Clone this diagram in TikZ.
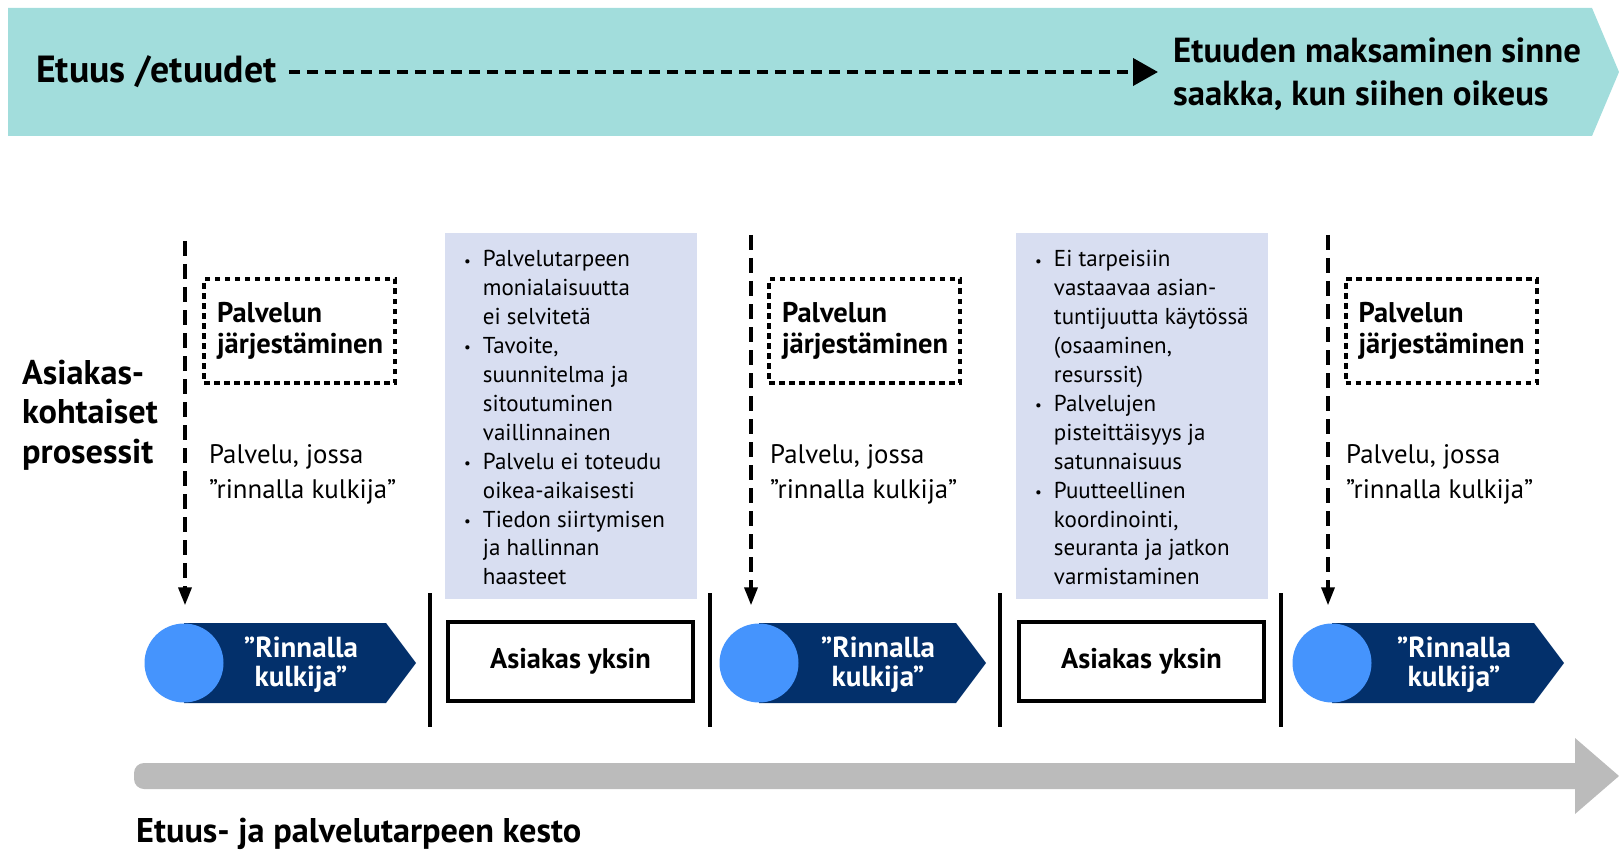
\documentclass[tikz,border=0pt]{standalone}
\usepackage{fontspec}
\setmainfont{PT Sans}
\usetikzlibrary{arrows.meta}

\definecolor{bannerteal}{HTML}{A2DDDC}
\definecolor{issuefill}{HTML}{D8DEF1}
\definecolor{guidenavy}{HTML}{03306B}
\definecolor{guidesky}{HTML}{4594FD}
\definecolor{trackgray}{HTML}{BBBBBB}

\newcommand{\fsz}[2]{\fontsize{#1}{#2}\selectfont}
\newcommand{\bul}{{\fsz{15}{15}\raisebox{1pt}{•}}}

\tikzset{
  guidetext/.style={text=white, font=\bfseries\fsz{29}{29}, align=center, inner sep=0pt},
  guidedot/.style={circle, fill=guidesky, minimum size=79pt, inner sep=0pt},
  planbox/.style={draw, line width=4pt, dash pattern=on 5.5pt off 4.5pt,
    minimum height=104pt, text width=165pt, inner xsep=13pt, align=left,
    font=\bfseries\fsz{28.5}{31}},
  walktext/.style={anchor=west, align=left, inner sep=0pt, font=\fsz{26.8}{35}},
  issuebox/.style={fill=issuefill, anchor=north west, minimum width=252pt,
    minimum height=366pt, inner sep=0pt},
  issuelist/.style={anchor=base west, inner sep=0pt, font=\fsz{23}{28.9}},
  alonebox/.style={draw, line width=4pt, minimum width=245pt, minimum height=79pt,
    font=\bfseries\fsz{28.4}{30}},
  entry/.style={draw, line width=3.5pt, dash pattern=on 15pt off 8pt,
    -{Triangle[length=18pt, width=13pt]}, shorten >=18pt},
  divider/.style={line width=4.5pt},
  benefitline/.style={line width=4pt, dash pattern=on 11pt off 7pt,
    -{Triangle[length=25pt, width=27pt]}, shorten <=12pt, shorten >=15pt},
}

\begin{document}
\begin{tikzpicture}[x=1pt, y=-1pt]
\useasboundingbox (0,0) rectangle (1619,850);

% benefit banner
\fill[bannerteal] (8,8) -- (1592,8) -- (1619,72) -- (1592,136) -- (8,136) -- cycle;
\node[anchor=west, inner sep=0pt, font=\bfseries\fsz{37.8}{40}] (benefit) at (36,72) {Etuus /etuudet};
\node[anchor=west, inner sep=0pt, align=left, font=\bfseries\fsz{34.8}{42.5}] (payment) at (1173,74)
  {Etuuden maksaminen sinne\\saakka, kun siihen oikeus};
\draw[benefitline] (benefit.east) -- (benefit.east -| payment.west);

% row label
\node[anchor=west, inner sep=0pt, align=left, font=\bfseries\fsz{34.3}{39.5}] (rowlabel) at (22,415)
  {Asiakas-\\kohtaiset\\prosessit};

% issue panels
\node[issuebox] (gap1) at (445,233) {};
\node[issuebox] (gap2) at (1016,233) {};
\node[issuelist] (list1) at (464,267) {\begin{tabular}[t]{@{}l@{\hspace{12pt}}l@{}}
\bul & Palvelutarpeen\\
     & monialaisuutta\\
     & ei selvitetä\\
\bul & Tavoite,\\
     & suunnitelma ja\\
     & sitoutuminen\\
     & vaillinnainen\\
\bul & Palvelu ei toteudu\\
     & oikea-aikaisesti\\
\bul & Tiedon siirtymisen\\
     & ja hallinnan\\
     & haasteet
\end{tabular}};
\node[issuelist] (list2) at (1035,267) {\begin{tabular}[t]{@{}l@{\hspace{12pt}}l@{}}
\bul & Ei tarpeisiin\\
     & vastaavaa asian-\\
     & tuntijuutta käytössä\\
     & (osaaminen,\\
     & resurssit)\\
\bul & Palvelujen\\
     & pisteittäisyys ja\\
     & satunnaisuus\\
\bul & Puutteellinen\\
     & koordinointi,\\
     & seuranta ja jatkon\\
     & varmistaminen
\end{tabular}};

% service planning boxes and companion texts
\node[planbox] (plan1) at (299.5,331) {Palvelun\\järjestäminen};
\node[planbox] (plan3) at (864.5,331) {Palvelun\\järjestäminen};
\node[planbox] (plan5) at (1441,331) {Palvelun\\järjestäminen};
\node[walktext] (walk1) at (209,474) {Palvelu, jossa\\”rinnalla kulkija”};
\node[walktext] (walk3) at (770,474) {Palvelu, jossa\\”rinnalla kulkija”};
\node[walktext] (walk5) at (1346,474) {Palvelu, jossa\\”rinnalla kulkija”};

% companion chevrons
\fill[guidenavy] (184,623) -- (386,623) -- (416,663) -- (386,703) -- (184,703) -- cycle;
\fill[guidenavy] (759,623) -- (956,623) -- (986,663) -- (956,703) -- (759,703) -- cycle;
\fill[guidenavy] (1332,623) -- (1534,623) -- (1564,663) -- (1534,703) -- (1332,703) -- cycle;
\node[guidedot] (c1) at (184,663) {};
\node[guidedot] (c3) at (759,663) {};
\node[guidedot] (c5) at (1332,663) {};
\node[guidetext] (g1) at (301,665) {”Rinnalla\\kulkija”};
\node[guidetext] (g3) at (878,665) {”Rinnalla\\kulkija”};
\node[guidetext] (g5) at (1454,665) {”Rinnalla\\kulkija”};

% client alone boxes
\node[alonebox] (alone2) at (570.5,661.5) {Asiakas yksin};
\node[alonebox] (alone4) at (1141.5,661.5) {Asiakas yksin};

% phase dividers
\draw[divider] (430,593) -- (430,727);
\draw[divider] (710,593) -- (710,727);
\draw[divider] (1000,593) -- (1000,727);
\draw[divider] (1281,593) -- (1281,727);

% entry arrows
\coordinate (e1) at (185,241);
\coordinate (e3) at (751,235);
\coordinate (e5) at (1328,235);
\draw[entry] (e1) -- (e1 |- c1.north);
\draw[entry] (e3) -- (e3 |- c3.north);
\draw[entry] (e5) -- (e5 |- c5.north);

% duration track
\fill[trackgray, rounded corners=10pt] (134,763) rectangle (1590,789);
\fill[trackgray] (1575,738) -- (1619,776) -- (1575,814) -- cycle;
\node[anchor=west, inner sep=0pt, font=\bfseries\fsz{34.3}{36}] (duration) at (136,834)
  {Etuus- ja palvelutarpeen kesto};
\end{tikzpicture}
\end{document}
